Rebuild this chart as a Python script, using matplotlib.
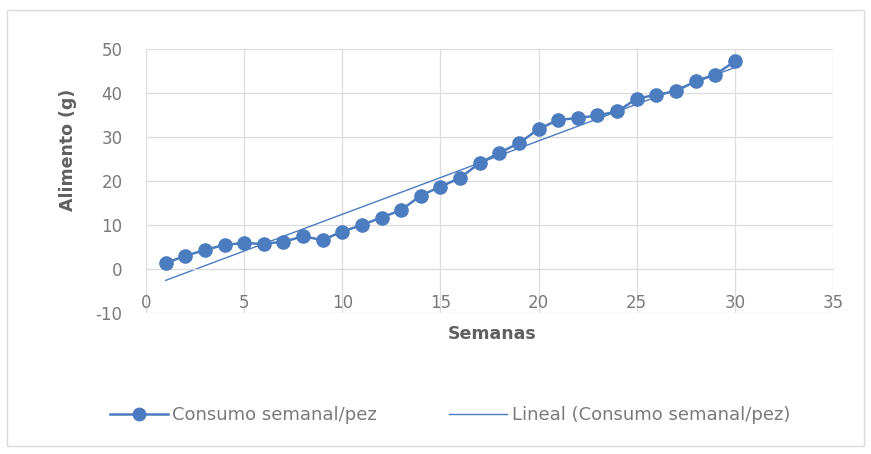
import numpy as np
import matplotlib
matplotlib.use("Agg")
import matplotlib.pyplot as plt
from matplotlib.patches import Rectangle
from matplotlib.lines import Line2D

plt.rcParams['font.family'] = ['DejaVu Sans']
plt.rcParams['axes.unicode_minus'] = False

semanas = list(range(1, 31))
consumo = [1.3, 3.0, 4.3, 5.5, 5.9, 5.7, 6.2, 7.4, 6.6, 8.5,
           10.0, 11.7, 13.4, 16.7, 18.7, 20.7, 24.1, 26.4, 28.6, 31.8,
           33.9, 34.3, 34.9, 35.8, 38.7, 39.6, 40.4, 42.7, 44.2, 47.2]
x_ticks = [0, 5, 10, 15, 20, 25, 30, 35]
y_ticks = [-10, 0, 10, 20, 30, 40, 50]

serie_nombre = "Consumo semanal/pez"
tendencia_nombre = "Lineal (Consumo semanal/pez)"

azul = "#4C7CC0"
gris_titulo = "#606060"
gris_txt = "#7A7A7A"
gris_grid = "#DCDCDC"

fig = plt.figure(figsize=(8.71, 4.54), dpi=100)
fig.patch.set_facecolor("white")
fig.patches.append(Rectangle((7 / 871, 1 - 446 / 454), 857 / 871, 436 / 454,
                             transform=fig.transFigure, fill=False,
                             edgecolor="#DADADA", linewidth=1.0))

ax = fig.add_axes([146 / 871, 1 - 313 / 454, 687 / 871, 264 / 454])
ax.set_xlim(0, 35)
ax.set_ylim(-10, 50)
ax.set_xticks(x_ticks)
ax.set_yticks(y_ticks)
ax.grid(True, color=gris_grid, linewidth=0.9)
ax.set_axisbelow(True)
for s in ax.spines.values():
    s.set_visible(False)
ax.spines['bottom'].set_visible(True)
ax.spines['bottom'].set_position(('data', 0))
ax.spines['bottom'].set_color(gris_grid)
ax.tick_params(length=0, labelsize=12, labelcolor=gris_txt)
ax.tick_params(axis='y', pad=17)
ax.tick_params(axis='x', pad=18)

# linear trend fitted to the weekly series
x = np.array(semanas, dtype=float)
y = np.array(consumo, dtype=float)
m, b = np.polyfit(x, y, 1)
ax.plot(x, m * x + b, color=azul, linewidth=1.0, zorder=2)
ax.plot(x, y, color=azul, linewidth=1.8, marker='o', markersize=9.5,
        markeredgecolor=azul, zorder=3)

fig.text(492 / 871, 1 - 334 / 454, "Semanas", ha='center', va='center',
         fontsize=12.5, fontweight='bold', color=gris_titulo)
fig.text(68 / 871, 1 - 150 / 454, "Alimento (g)", ha='center', va='center',
         rotation=90, fontsize=12.5, fontweight='bold', color=gris_titulo)

handles = [Line2D([], [], color=azul, linewidth=1.8, marker='o', markersize=9),
           Line2D([], [], color=azul, linewidth=1.0)]
fig.legend(handles, [serie_nombre, tendencia_nombre], loc='center',
           bbox_to_anchor=(450 / 871, 1 - 415 / 454), ncol=2, frameon=False,
           fontsize=13, labelcolor=gris_txt, handlelength=3.2,
           handletextpad=0.25, columnspacing=4.0)

fig.savefig("out.png", dpi=100)
